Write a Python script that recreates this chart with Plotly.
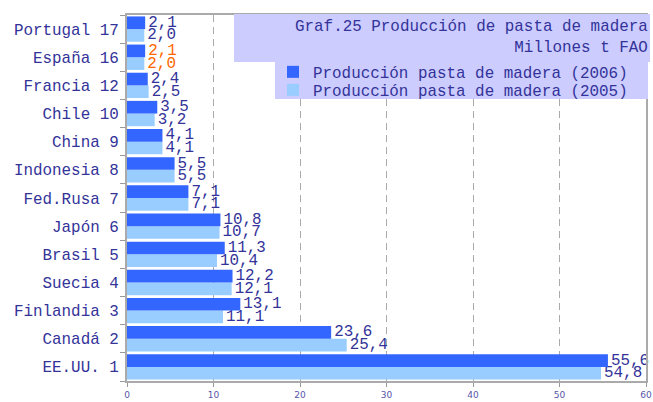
import plotly.graph_objects as go

categories = ["EE.UU. 1", "Canadá 2", "Finlandia 3", "Suecia 4", "Brasil 5", "Japón 6",
              "Fed.Rusa 7", "Indonesia 8", "China 9", "Chile 10", "Francia 12",
              "España 16", "Portugal 17"]
prod_2006 = [55.6, 23.6, 13.1, 12.2, 11.3, 10.8, 7.1, 5.5, 4.1, 3.5, 2.4, 2.1, 2.1]
prod_2005 = [54.8, 25.4, 11.1, 12.1, 10.4, 10.7, 7.1, 5.5, 4.1, 3.2, 2.5, 2.0, 2.0]
x_ticks = [0, 10, 20, 30, 40, 50, 60]

TXT = "#333399"
HIGHLIGHT = "España 16"
FONT = "Liberation Mono"
FS = 15.9

def fmt(v):
    return f"{v:.1f}".replace(".", ",")

def colors(cats):
    return ["#FF6600" if c == HIGHLIGHT else TXT for c in cats]

fig = go.Figure()
fig.add_trace(go.Bar(
    y=categories, x=prod_2005, orientation="h", name="Producción pasta de madera (2005)",
    marker=dict(color="#99CCFF", line=dict(width=0)),
    text=[fmt(v) for v in prod_2005], textposition="outside",
    textfont=dict(family=FONT, size=FS, color=colors(categories)),
    cliponaxis=False, constraintext="none", legend="legend2",
))
fig.add_trace(go.Bar(
    y=categories, x=prod_2006, orientation="h", name="Producción pasta de madera (2006)",
    marker=dict(color="#3366FF", line=dict(width=0)),
    text=[fmt(v) for v in prod_2006], textposition="outside",
    textfont=dict(family=FONT, size=FS, color=colors(categories)),
    cliponaxis=False, constraintext="none", legend="legend",
))

# plot area: x 127..646, y 15..381
def px(xp):
    return (xp - 127) / 519.0
def py(yp):
    return (381 - yp) / 366.0

fig.add_shape(type="rect", xref="paper", yref="paper",
              x0=px(234), x1=px(650), y0=py(62), y1=py(14),
              fillcolor="#CCCCFF", line=dict(width=0), layer="above")
fig.add_shape(type="rect", xref="paper", yref="paper",
              x0=px(275), x1=px(648), y0=py(99), y1=py(62),
              fillcolor="#CCCCFF", line=dict(width=0), layer="above")

fig.add_annotation(xref="paper", yref="paper", x=px(650), y=py(16),
                   xanchor="right", yanchor="top", align="right", showarrow=False,
                   text="Graf.25 Producción de pasta de madera<br>Millones t FAO",
                   font=dict(family=FONT, size=FS, color=TXT))

leg_common = dict(xref="container", yref="container", xanchor="left", yanchor="middle",
                  bgcolor="rgba(0,0,0,0)", font=dict(family=FONT, size=FS, color=TXT),
                  itemwidth=30, borderwidth=0)

fig.update_layout(
    width=653, height=402,
    margin=dict(l=127, r=7, t=15, b=21, autoexpand=False),
    paper_bgcolor="white", plot_bgcolor="white",
    barmode="group", bargap=0.1, bargroupgap=0,
    showlegend=True,
    legend=dict(x=273 / 653, y=1 - 72 / 402, **leg_common),
    legend2=dict(x=273 / 653, y=1 - 90 / 402, **leg_common),
    font=dict(family=FONT, color=TXT),
    xaxis=dict(range=[0, 60], tickvals=x_ticks, ticktext=[str(v) for v in x_ticks],
               showgrid=True, gridcolor="#AAAAAA", griddash="7px,5px", gridwidth=1,
               showline=True, linecolor="#AAAAAA", linewidth=2, mirror=True,
               ticks="outside", ticklen=4, tickcolor="#999999", zeroline=False,
               automargin=False,
               tickfont=dict(family="DejaVu Sans", size=9, color="#5555AA")),
    yaxis=dict(type="category", categoryorder="array", categoryarray=categories,
               showline=True, linecolor="#AAAAAA", linewidth=2, mirror=True,
               ticks="outside", tickson="boundaries", ticklen=5, tickcolor="#999999",
               automargin=False, ticklabelstandoff=3,
               tickfont=dict(family=FONT, size=FS, color=TXT), showgrid=False),
)

fig.write_html("out.html", config={"displayModeBar": False},
               post_script="document.body.style.margin='0';document.body.style.padding='0';")
